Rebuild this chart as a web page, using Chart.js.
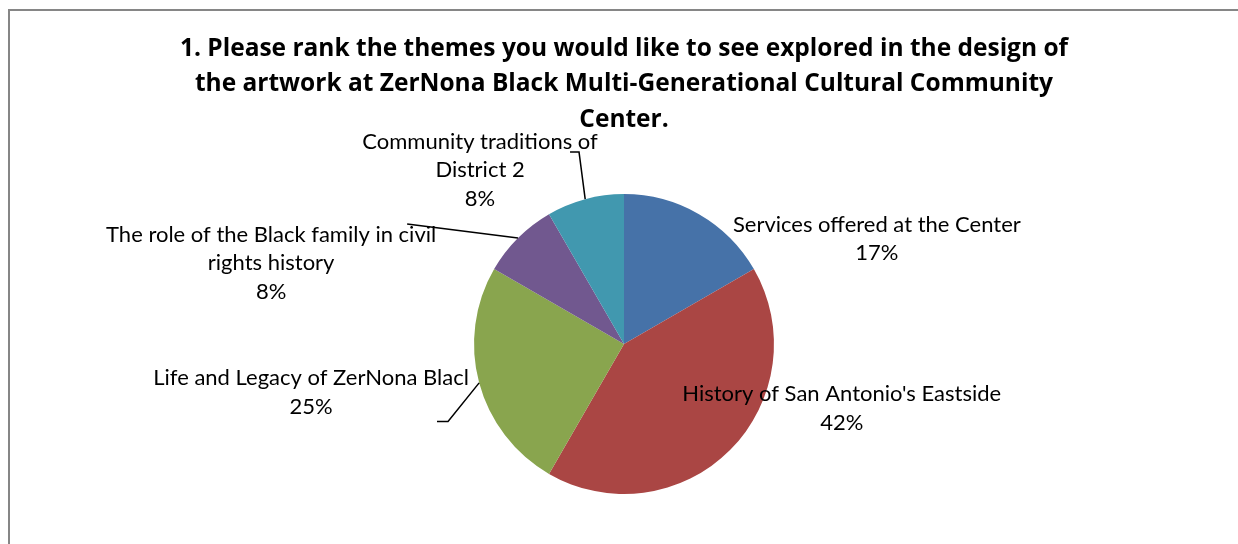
<!DOCTYPE html>
<html>
<head>
<meta charset="utf-8">
<script src="https://cdn.jsdelivr.net/npm/chart.js"></script>
<style>
  html, body { margin: 0; padding: 0; background: #fff; }
  #wrap { position: relative; width: 1238px; height: 544px; overflow: hidden; }
  #frame { position: absolute; left: 8px; top: 9px; width: 1300px; height: 600px;
           border-left: 2px solid #868686; border-top: 2px solid #868686; }
  #myChart { position: absolute; left: 0; top: 0; }
</style>
</head>
<body>
<div id="wrap">
  <div id="frame"></div>
  <canvas id="myChart" width="1238" height="544"></canvas>
</div>
<script>
// survey answers (counts out of 12)
var themes = [
    'Services offered at the Center',
    "History of San Antonio's Eastside",
    'Life and Legacy of ZerNona Blacl',
    'The role of the Black family in civil rights history',
    'Community traditions of District 2'
];
var counts = [2, 5, 3, 1, 1];
var sliceColors = ['#4672A8', '#AA4644', '#89A54E', '#71588F', '#4198AF'];

// how each data label is broken into lines (as in the original)
var labelLines = [
    ['Services offered at the Center'],
    ["History of San Antonio's Eastside"],
    ['Life and Legacy of ZerNona Blacl'],
    ['The role of the Black family in civil', 'rights history'],
    ['Community traditions of', 'District 2']
];

// label placement, in pie radii from the pie centre, plus leader lines (px from label centre)
var labelPlace = [
    { dx: 1.686, dy: -0.70, leader: null },
    { dx: 1.452, dy: 0.43, leader: null },
    { dx: -2.087, dy: 0.323, leader: [[126, 29], [137, 29]] },
    { dx: -2.353, dy: -0.54, leader: [[136, -39]] },
    { dx: -0.96, dy: -1.16, leader: [[90, -18], [99, -18]] }
];

var pieLabels = {
    id: 'pieLabels',
    afterDatasetsDraw: function(chart) {
        var ctx = chart.ctx;
        var meta = chart.getDatasetMeta(0);
        var total = counts.reduce(function(a, b) { return a + b; }, 0);
        ctx.save();
        ctx.font = '22px Lato';
        ctx.fillStyle = '#000';
        ctx.textAlign = 'center';
        ctx.textBaseline = 'middle';
        meta.data.forEach(function(arc, i) {
            var p = labelPlace[i];
            var r = arc.outerRadius;
            var lx = arc.x + p.dx * r;
            var ly = arc.y + p.dy * r;
            var lines = labelLines[i].concat(Math.round(counts[i] / total * 100) + '%');
            var lh = 28.5;
            lines.forEach(function(t, k) {
                ctx.fillText(t, lx, ly + (k - (lines.length - 1) / 2) * lh);
            });
            if (p.leader) {
                var mid = (arc.startAngle + arc.endAngle) / 2;
                ctx.beginPath();
                ctx.strokeStyle = '#000';
                ctx.lineWidth = 1.5;
                ctx.moveTo(lx + p.leader[0][0], ly + p.leader[0][1]);
                for (var j = 1; j < p.leader.length; j++) {
                    ctx.lineTo(lx + p.leader[j][0], ly + p.leader[j][1]);
                }
                ctx.lineTo(arc.x + Math.cos(mid) * r, arc.y + Math.sin(mid) * r);
                ctx.stroke();
            }
        });
        ctx.restore();
    }
};

var ctx = document.getElementById('myChart').getContext('2d');
var myChart = new Chart(ctx, {
    type: 'pie',
    data: {
        labels: themes,
        datasets: [{
            data: counts,
            backgroundColor: sliceColors,
            borderWidth: 0
        }]
    },
    options: {
        responsive: false,
        animation: false,
        layout: { padding: { left: 10, bottom: 50 } },
        plugins: {
            legend: { display: false },
            tooltip: { enabled: false },
            title: {
                display: true,
                text: [
                    '1. Please rank the themes you would like to see explored in the design of',
                    'the artwork at ZerNona Black Multi-Generational Cultural Community',
                    'Center.'
                ],
                color: '#000',
                font: { family: 'Open Sans', size: 24.5, weight: 'bold', lineHeight: 1.45 },
                padding: { top: 31, bottom: 56.5 }
            }
        }
    },
    plugins: [pieLabels]
});
</script>
</body>
</html>
